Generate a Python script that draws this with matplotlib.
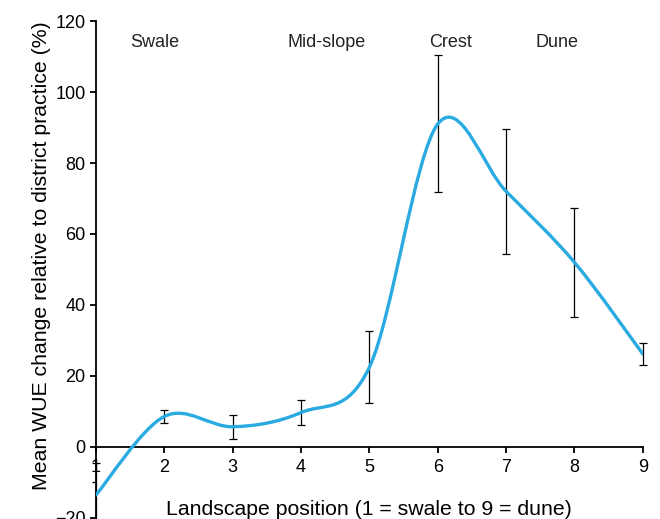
import numpy as np
import matplotlib
matplotlib.use("Agg")
import matplotlib.pyplot as plt
from matplotlib.path import Path
from matplotlib.patches import PathPatch

plt.rcParams["font.family"] = ["Liberation Sans", "DejaVu Sans"]

# landscape position vs mean WUE change (%), with error bar half-widths
positions = [1, 2, 3, 4, 5, 6, 7, 8, 9]
wue_change = [-13.5, 8.6, 5.7, 9.7, 22.5, 91.0, 72.0, 52.0, 26.2]
wue_err = [9.0, 1.8, 3.4, 3.5, 10.2, 19.3, 17.7, 15.3, 3.1]

zone_labels = ["Swale", "Mid-slope", "Crest", "Dune"]
zone_x = [1.86, 4.38, 6.18, 7.74]
zone_y = 114

LINE_COLOR = "#29abe2"


def smooth_path(xs, ys):
    # Excel-style smoothed line: cubic Bezier segments, tension 1/6
    xs = np.asarray(xs, float)
    ys = np.asarray(ys, float)
    n = len(xs)
    verts = [(xs[0], ys[0])]
    codes = [Path.MOVETO]
    for i in range(n - 1):
        i0 = max(i - 1, 0)
        i3 = min(i + 2, n - 1)
        c1 = (xs[i] + (xs[i + 1] - xs[i0]) / 6, ys[i] + (ys[i + 1] - ys[i0]) / 6)
        c2 = (xs[i + 1] - (xs[i3] - xs[i]) / 6, ys[i + 1] - (ys[i3] - ys[i]) / 6)
        verts += [c1, c2, (xs[i + 1], ys[i + 1])]
        codes += [Path.CURVE4] * 3
    return Path(verts, codes)


fig = plt.figure(figsize=(6.6, 5.19), dpi=100)
ax = fig.add_axes([0.1455, 0.002, 0.8285, 0.9575])

ax.add_patch(PathPatch(smooth_path(positions, wue_change), facecolor="none",
                       edgecolor=LINE_COLOR, lw=2.4, capstyle="round", zorder=3))
ax.errorbar(positions, wue_change, yerr=wue_err, fmt="none", ecolor="black",
            elinewidth=0.9, capsize=3, capthick=0.9, zorder=2, clip_on=False)

for lab, x in zip(zone_labels, zone_x):
    ax.text(x, zone_y, lab, ha="center", va="center", fontsize=13, color="#222222")

ax.set_xlim(1, 9)
ax.set_ylim(-20, 120)
ax.set_xticks(positions)
ax.set_yticks(np.arange(-20, 121, 20))
ax.set_yticks([-10], minor=True)
ax.spines["top"].set_visible(False)
ax.spines["right"].set_visible(False)
ax.spines["bottom"].set_position(("data", 0))
ax.spines["left"].set_linewidth(1.3)
ax.spines["bottom"].set_linewidth(1.3)
ax.tick_params(axis="both", labelsize=13, width=1.3, length=4, direction="out")
ax.tick_params(axis="y", which="minor", width=1.0, length=3)
ax.tick_params(axis="x", pad=5)

ax.text(5, -17.5, "Landscape position (1 = swale to 9 = dune)",
        ha="center", va="center", fontsize=15.3)
ax.set_ylabel("Mean WUE change relative to district practice (%)", fontsize=15.3)
ax.yaxis.set_label_coords(-0.082, 0.527)

fig.savefig("out.png", dpi=100)
